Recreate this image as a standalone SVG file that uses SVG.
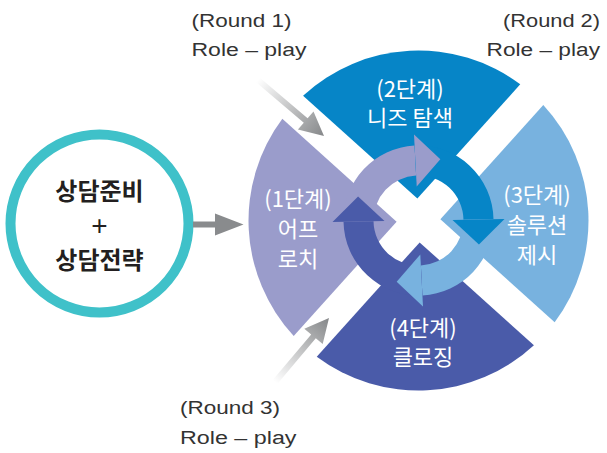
<svg xmlns="http://www.w3.org/2000/svg" width="607" height="453" viewBox="0 0 607 453">
<defs>
<style>
.lbl{font-family:"Noto Sans CJK KR","Noto Sans",sans-serif;font-size:22px;fill:#ffffff;text-anchor:middle}
.ctr{font-family:"Noto Sans CJK KR","Noto Sans",sans-serif;font-size:24px;font-weight:bold;fill:#231f20;text-anchor:middle}
.plus{font-family:"Liberation Sans",sans-serif;font-size:28px;fill:#231f20;text-anchor:middle}
.rnd{font-family:"Liberation Sans","Noto Sans CJK KR",sans-serif;font-size:18px;fill:#333333}
.s1{fill:#9a9ccb}.s2{fill:#0685c7}.s3{fill:#78b2df}.s4{fill:#4a5ba9}
</style>
<linearGradient id="g1" gradientUnits="userSpaceOnUse" x1="258" y1="80" x2="324" y2="136">
<stop offset="0" stop-color="#ffffff"/><stop offset="1" stop-color="#858789"/>
</linearGradient>
<linearGradient id="g3" gradientUnits="userSpaceOnUse" x1="275" y1="382" x2="329" y2="318">
<stop offset="0" stop-color="#ffffff"/><stop offset="1" stop-color="#858789"/>
</linearGradient>
</defs>
<rect width="607" height="453" fill="#ffffff"/>

<g id="prep">
<circle cx="99.5" cy="223.5" r="89" fill="#ffffff" stroke="#3fc1c9" stroke-width="10"/>
<text class="ctr" x="99.5" y="200">상담준비</text>
<text class="plus" x="99.5" y="235">+</text>
<text class="ctr" x="99.5" y="269">상담전략</text>
</g>

<g id="stage1">
<path class="s1" d="M396.61 221.65 L293.71 335.93 A170 170 0 0 1 282.33 118.75 Z"/>
</g>
<g id="stage2">
<path class="s2" d="M417.35 198.61 L303.07 95.71 A170 170 0 0 1 520.25 84.33 Z"/>
</g>
<g id="stage3">
<path class="s3" d="M440.39 219.35 L543.29 105.07 A170 170 0 0 1 554.67 322.25 Z"/>
</g>
<g id="stage4">
<path class="s4" d="M419.65 242.39 L533.93 345.29 A170 170 0 0 1 316.75 356.67 Z"/>
</g>

<g id="cycle-arrows">
<path class="s1" d="M343.51 221.81 A75 75 0 0 1 414.57 145.60 L416.14 175.56 A45 45 0 0 0 373.51 221.29 Z"/>
<path class="s2" d="M414.57 145.60 A75 75 0 0 1 493.49 219.19 L463.49 219.71 A45 45 0 0 0 416.14 175.56 Z"/>
<path class="s3" d="M493.49 219.19 A75 75 0 0 1 422.43 295.40 L420.86 265.44 A45 45 0 0 0 463.49 219.71 Z"/>
<path class="s4" d="M422.43 295.40 A75 75 0 0 1 343.51 221.81 L373.51 221.29 A45 45 0 0 0 420.86 265.44 Z"/>
<polygon class="s1" points="416.72,186.55 414.00,134.62 440.33,159.27"/>
<polygon class="s2" points="452.49,219.91 504.49,219.00 478.93,244.45"/>
<polygon class="s3" points="420.28,254.45 423.00,306.38 396.67,281.73"/>
<polygon class="s4" points="384.51,221.09 332.51,222.00 358.07,196.55"/>
</g>

<g id="stage-labels">
<text class="lbl" x="410" y="97">(2단계)</text>
<text class="lbl" x="410" y="126">니즈 탐색</text>
<text class="lbl" x="537" y="203">(3단계)</text>
<text class="lbl" x="537" y="233">솔루션</text>
<text class="lbl" x="537" y="263">제시</text>
<text class="lbl" x="298" y="207">(1단계)</text>
<text class="lbl" x="298" y="237">어프</text>
<text class="lbl" x="298" y="267">로치</text>
<text class="lbl" x="423" y="336">(4단계)</text>
<text class="lbl" x="423" y="365">클로징</text>
</g>

<g id="connectors">
<polygon fill="#898b8d" points="193,221.5 215,221.5 215,213.5 243.5,224.5 215,235.5 215,227.5 193,227.5"/>
<polygon fill="url(#g1)" points="256.1,82.3 303.8,122.8 297.9,129.6 324,136 313.5,111.4 307.6,118.2 259.9,77.7"/>
<polygon fill="url(#g3)" points="277.3,383.9 315.8,338.3 322.7,344.1 329,318 304.3,328.7 311.2,334.5 272.7,380.1"/>
</g>

<g id="round-labels">
<text class="rnd" x="191.5" y="27" textLength="100" lengthAdjust="spacingAndGlyphs">(Round 1)</text>
<text class="rnd" x="191.5" y="55.5" textLength="115" lengthAdjust="spacingAndGlyphs">Role – play</text>
<text class="rnd" x="503" y="27" textLength="97" lengthAdjust="spacingAndGlyphs">(Round 2)</text>
<text class="rnd" x="486.5" y="55.5" textLength="113.5" lengthAdjust="spacingAndGlyphs">Role – play</text>
<text class="rnd" x="180" y="414" textLength="100" lengthAdjust="spacingAndGlyphs">(Round 3)</text>
<text class="rnd" x="180" y="444" textLength="116.5" lengthAdjust="spacingAndGlyphs">Role – play</text>
</g>
</svg>
